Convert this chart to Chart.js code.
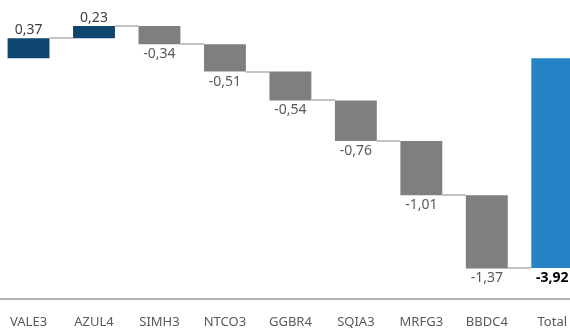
<!DOCTYPE html>
<html>
<head>
<meta charset="utf-8">
<script src="https://cdn.jsdelivr.net/npm/chart.js@4"></script>
<style>
  html, body { margin: 0; padding: 0; background: #fff; overflow: hidden; }
  #wrap { position: absolute; left: -5px; top: 0; width: 590px; height: 329px; }
</style>
</head>
<body>
<div id="wrap"><canvas id="waterfall" width="590" height="329"></canvas></div>
<script>
// stocks and their contribution
const tickers = ['VALE3', 'AZUL4', 'SIMH3', 'NTCO3', 'GGBR4', 'SQIA3', 'MRFG3', 'BBDC4'];
const changes = [0.37, 0.23, -0.34, -0.51, -0.54, -0.76, -1.01, -1.37];
const totalLabel = 'Total';
const totalValue = -3.92;

const labels = tickers.concat([totalLabel]);

// build floating bars from running sum
let running = 0;
const levels = [];
const bars = changes.map(v => {
    const start = running;
    running += v;
    levels.push(running);
    return [start, running];
});
bars.push([0, totalValue]);

const colors = changes.map(v => v >= 0 ? '#0f4670' : '#7f7f82');
colors.push('#2683c6');

function fmt(v) {
    return v.toFixed(2).replace('.', ',');
}

const connectors = {
    id: 'connectors',
    beforeDatasetsDraw(chart) {
        const ctx = chart.ctx;
        const y = chart.scales.y;
        const meta = chart.getDatasetMeta(0);
        ctx.save();
        ctx.strokeStyle = '#c3c3c3';
        ctx.lineWidth = 2;
        for (let i = 0; i < levels.length; i++) {
            const a = meta.data[i], b = meta.data[i + 1];
            const py = Math.round(y.getPixelForValue(levels[i])) ;
            ctx.beginPath();
            ctx.moveTo(a.x + a.width / 2, py);
            ctx.lineTo(b.x - b.width / 2, py);
            ctx.stroke();
        }
        ctx.restore();
    }
};

const valueLabels = {
    id: 'valueLabels',
    afterDatasetsDraw(chart) {
        const ctx = chart.ctx;
        const y = chart.scales.y;
        const meta = chart.getDatasetMeta(0);
        ctx.save();
        ctx.textAlign = 'center';
        meta.data.forEach((bar, i) => {
            const isTotal = i === changes.length;
            const v = isTotal ? totalValue : changes[i];
            const top = y.getPixelForValue(Math.max(bars[i][0], bars[i][1]));
            const bottom = y.getPixelForValue(Math.min(bars[i][0], bars[i][1]));
            if (isTotal) {
                ctx.font = 'bold 14px "Noto Sans"';
                ctx.fillStyle = '#000000';
            } else {
                ctx.font = '14px "Noto Sans"';
                ctx.fillStyle = v >= 0 ? '#404040' : '#595959';
            }
            if (v >= 0) {
                ctx.textBaseline = 'bottom';
                ctx.fillText(fmt(v), bar.x, top - 1);
            } else {
                ctx.textBaseline = 'top';
                ctx.fillText(fmt(v), bar.x, bottom + 3);
            }
        });
        ctx.restore();
    }
};

const ctx = document.getElementById('waterfall').getContext('2d');
window.waterfallChart = new Chart(ctx, {
    type: 'bar',
    data: {
        labels: labels,
        datasets: [{
            data: bars,
            backgroundColor: colors,
            borderWidth: 0,
            barPercentage: 0.64,
            categoryPercentage: 1
        }]
    },
    options: {
        responsive: false,
        animation: false,
        layout: { padding: { top: 18, bottom: 0, left: 0, right: 0 } },
        plugins: {
            legend: { display: false },
            tooltip: { enabled: false }
        },
        scales: {
            x: {
                grid: { display: false, drawTicks: false, tickLength: 0 },
                border: { color: '#b4b4b4', width: 2 },
                ticks: {
                    color: '#595959',
                    font: { family: 'Noto Sans', size: 13 },
                    padding: 15,
                    maxRotation: 0
                },
                afterFit(scale) {
                    scale.height = 30;
                }
            },
            y: {
                display: false,
                min: -4.5,
                max: 0.75
            }
        }
    },
    plugins: [connectors, valueLabels]
});
</script>
</body>
</html>
